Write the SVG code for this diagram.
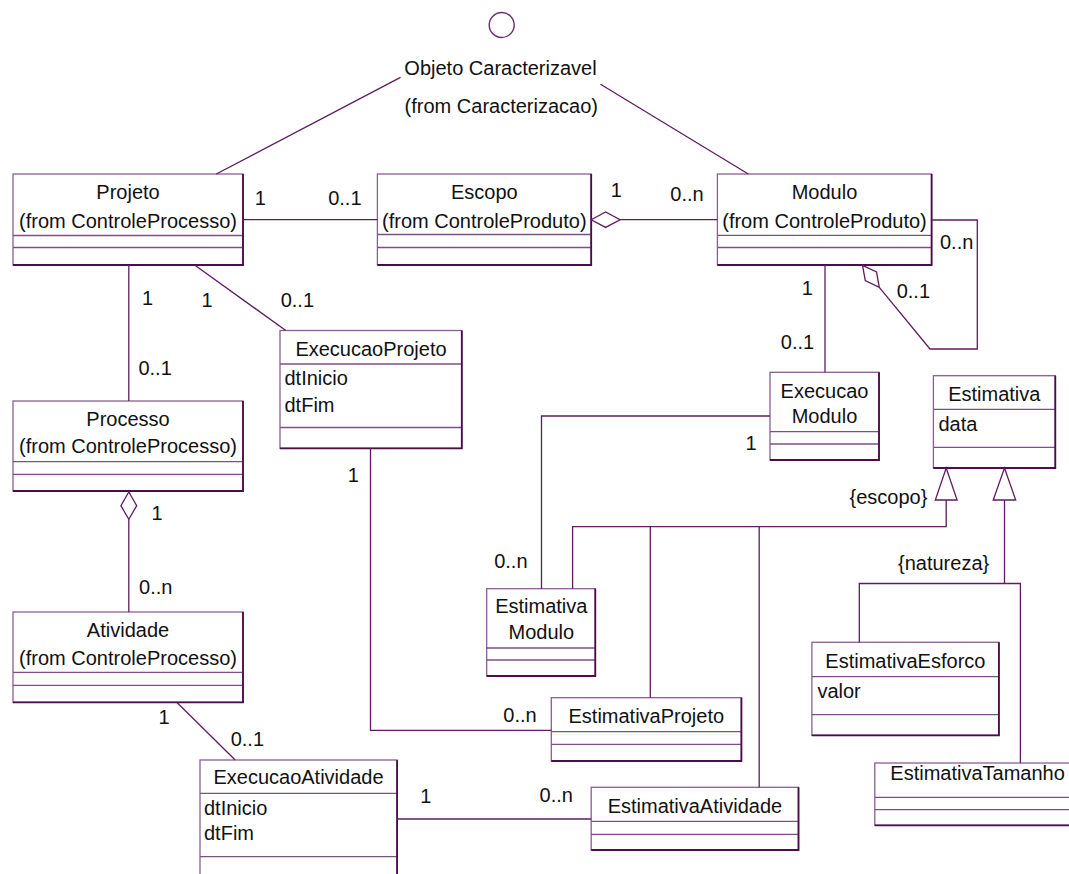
<svg xmlns="http://www.w3.org/2000/svg" width="1069" height="874" viewBox="0 0 1069 874">
<style>
  text { font-family: "Liberation Sans", Arial, sans-serif; font-size: 20px; fill: #111; }
  .c { text-anchor: middle; }
  .box { fill: #fff; stroke: #8a5e92; stroke-width: 1.3; }
  .sep { stroke: #7e4f86; stroke-width: 1.3; fill: none; }
  .shd { stroke: #4a0c4a; stroke-width: 1.8; fill: none; }
  .ln { stroke: #5e1c60; stroke-width: 1.3; fill: none; }
  .dia { stroke: #5e1c60; stroke-width: 1.3; fill: #fff; }
</style>
<rect width="1069" height="874" fill="#fff"/>

<g id="objeto-caracterizavel">
  <circle cx="501.7" cy="25" r="12.5" fill="#fff" stroke="#6a2a70" stroke-width="1.4"/>
  <text class="c" x="500.5" y="75">Objeto Caracterizavel</text>
  <text class="c" x="501.3" y="113">(from Caracterizacao)</text>
</g>

<g id="projeto">
  <rect class="box" x="13" y="174" width="230" height="91"/>
  <line class="sep" x1="13" y1="235.5" x2="243" y2="235.5"/>
  <line class="sep" x1="13" y1="247.5" x2="243" y2="247.5"/>
  <path class="shd" d="M13 265H243V174"/>
  <text class="c" x="128" y="199">Projeto</text>
  <text class="c" x="128" y="227.5">(from ControleProcesso)</text>
</g>

<g id="escopo">
  <rect class="box" x="377.4" y="174" width="213.8" height="91"/>
  <line class="sep" x1="377.4" y1="234.5" x2="591.2" y2="234.5"/>
  <line class="sep" x1="377.4" y1="247.5" x2="591.2" y2="247.5"/>
  <path class="shd" d="M377.4 265H591.2V174"/>
  <text class="c" x="484.3" y="199">Escopo</text>
  <text class="c" x="484.3" y="227.5">(from ControleProduto)</text>
</g>

<g id="modulo">
  <rect class="box" x="717.4" y="174" width="214.2" height="91"/>
  <line class="sep" x1="717.4" y1="235.3" x2="931.6" y2="235.3"/>
  <line class="sep" x1="717.4" y1="247.5" x2="931.6" y2="247.5"/>
  <path class="shd" d="M717.4 265H931.6V174"/>
  <text class="c" x="824.5" y="199">Modulo</text>
  <text class="c" x="824.5" y="227.5">(from ControleProduto)</text>
</g>

<g id="execucao-projeto">
  <rect class="box" x="280" y="330.5" width="181.8" height="117.8"/>
  <line class="sep" x1="280" y1="364" x2="461.8" y2="364"/>
  <line class="sep" x1="280" y1="427.5" x2="461.8" y2="427.5"/>
  <path class="shd" d="M280 448.3H461.8V330.5"/>
  <text class="c" x="371" y="356">ExecucaoProjeto</text>
  <text x="284.5" y="385">dtInicio</text>
  <text x="284.5" y="411.5">dtFim</text>
</g>

<g id="processo">
  <rect class="box" x="13" y="401" width="230" height="90"/>
  <line class="sep" x1="13" y1="461.7" x2="243" y2="461.7"/>
  <line class="sep" x1="13" y1="474.3" x2="243" y2="474.3"/>
  <path class="shd" d="M13 491H243V401"/>
  <text class="c" x="128" y="426">Processo</text>
  <text class="c" x="128" y="453.3">(from ControleProcesso)</text>
</g>

<g id="atividade">
  <rect class="box" x="13" y="612" width="230" height="90.3"/>
  <line class="sep" x1="13" y1="672.3" x2="243" y2="672.3"/>
  <line class="sep" x1="13" y1="685.3" x2="243" y2="685.3"/>
  <path class="shd" d="M13 702.3H243V612"/>
  <text class="c" x="128" y="636.7">Atividade</text>
  <text class="c" x="128" y="665">(from ControleProcesso)</text>
</g>

<g id="execucao-atividade">
  <rect class="box" x="200" y="760" width="197.1" height="125"/>
  <line class="sep" x1="200" y1="793.3" x2="397.1" y2="793.3"/>
  <line class="sep" x1="200" y1="856.7" x2="397.1" y2="856.7"/>
  <path class="shd" d="M397.1 760V885"/>
  <text class="c" x="298.5" y="784">ExecucaoAtividade</text>
  <text x="204" y="815">dtInicio</text>
  <text x="204" y="840">dtFim</text>
</g>

<g id="execucao-modulo">
  <rect class="box" x="770" y="372.3" width="109" height="87.7"/>
  <line class="sep" x1="770" y1="431.7" x2="879" y2="431.7"/>
  <line class="sep" x1="770" y1="444" x2="879" y2="444"/>
  <path class="shd" d="M770 460H879V372.3"/>
  <text class="c" x="824.5" y="398.3">Execucao</text>
  <text class="c" x="824.5" y="423.3">Modulo</text>
</g>

<g id="estimativa">
  <rect class="box" x="933.4" y="375.7" width="121.9" height="92.3"/>
  <line class="sep" x1="933.4" y1="409.3" x2="1055.3" y2="409.3"/>
  <line class="sep" x1="933.4" y1="447.3" x2="1055.3" y2="447.3"/>
  <path class="shd" d="M933.4 468H1055.3V375.7"/>
  <text class="c" x="994.3" y="400.7">Estimativa</text>
  <text x="938.4" y="430.7">data</text>
</g>

<g id="estimativa-modulo">
  <rect class="box" x="486.7" y="588.7" width="108.6" height="87.3"/>
  <line class="sep" x1="486.7" y1="648" x2="595.3" y2="648"/>
  <line class="sep" x1="486.7" y1="660" x2="595.3" y2="660"/>
  <path class="shd" d="M486.7 676H595.3V588.7"/>
  <text class="c" x="541.3" y="613.3">Estimativa</text>
  <text class="c" x="541.3" y="638.7">Modulo</text>
</g>

<g id="estimativa-projeto">
  <rect class="box" x="551.3" y="697.7" width="190.1" height="63.3"/>
  <line class="sep" x1="551.3" y1="731.7" x2="741.4" y2="731.7"/>
  <line class="sep" x1="551.3" y1="744.3" x2="741.4" y2="744.3"/>
  <path class="shd" d="M551.3 761H741.4V697.7"/>
  <text class="c" x="646.3" y="722.7">EstimativaProjeto</text>
</g>

<g id="estimativa-atividade">
  <rect class="box" x="591.2" y="787.3" width="207.3" height="62.7"/>
  <line class="sep" x1="591.2" y1="821.3" x2="798.5" y2="821.3"/>
  <line class="sep" x1="591.2" y1="834.3" x2="798.5" y2="834.3"/>
  <path class="shd" d="M591.2 850H798.5V787.3"/>
  <text class="c" x="694.9" y="812.7">EstimativaAtividade</text>
</g>

<g id="estimativa-esforco">
  <rect class="box" x="811.9" y="642.3" width="187" height="93"/>
  <line class="sep" x1="811.9" y1="676.7" x2="998.9" y2="676.7"/>
  <line class="sep" x1="811.9" y1="714.7" x2="998.9" y2="714.7"/>
  <path class="shd" d="M811.9 735.3H998.9V642.3"/>
  <text class="c" x="905.4" y="668.3">EstimativaEsforco</text>
  <text x="817.4" y="698.3">valor</text>
</g>

<g id="estimativa-tamanho">
  <rect class="box" x="874.8" y="763" width="210" height="62.3"/>
  <line class="sep" x1="874.8" y1="797.3" x2="1084.8" y2="797.3"/>
  <line class="sep" x1="874.8" y1="809.7" x2="1084.8" y2="809.7"/>
  <path class="shd" d="M874.8 825.3H1084.8"/>
  <text x="890.3" y="780">EstimativaTamanho</text>
</g>

<g id="connectors">
  <line class="ln" x1="400.5" y1="77.3" x2="216.3" y2="174"/>
  <line class="ln" x1="600.5" y1="84.3" x2="748.3" y2="174"/>
  <line class="ln" x1="243" y1="219.7" x2="377.4" y2="219.7"/>
  <polygon class="dia" points="591.2,219.7 605.6,212 620.1,219.7 605.6,227.4"/>
  <line class="ln" x1="620.1" y1="219.7" x2="717.4" y2="219.7"/>
  <polyline class="ln" points="931.6,220 977.3,220 977.3,349 930,349 879.3,287.3"/>
  <polygon class="dia" points="862.5,265.3 876.5,272 879.3,287.3 865.3,280.6"/>
  <line class="ln" x1="825" y1="265" x2="825" y2="372.3"/>
  <line class="ln" x1="128.8" y1="265" x2="128.8" y2="401"/>
  <line class="ln" x1="194.6" y1="265" x2="285.8" y2="330.5"/>
  <polygon class="dia" points="128.8,492 136.7,505.7 128.8,519.3 120.9,505.7"/>
  <line class="ln" x1="128.8" y1="519.3" x2="128.8" y2="612"/>
  <line class="ln" x1="176.7" y1="702.3" x2="235.2" y2="760"/>
  <line class="ln" x1="397.1" y1="819" x2="591.2" y2="819"/>
  <polyline class="ln" points="370.5,448.3 370.5,730.3 551.3,730.3"/>
  <polyline class="ln" points="770,416 541.5,416 541.5,588.7"/>
  <polygon class="dia" points="946.2,468 957.1,500 935.3,500"/>
  <polyline class="ln" points="946.2,500 946.2,526.7 572.6,526.7 572.6,588.7"/>
  <line class="ln" x1="650.3" y1="526.7" x2="650.3" y2="697.7"/>
  <line class="ln" x1="759.2" y1="526.7" x2="759.2" y2="787.3"/>
  <polygon class="dia" points="1004.5,468 1015.7,500 993.2,500"/>
  <line class="ln" x1="1004.5" y1="500" x2="1004.5" y2="583.5"/>
  <polyline class="ln" points="859.3,642.3 859.3,583.5 1020.4,583.5 1020.4,763"/>
</g>

<g id="labels">
  <text x="254.8" y="205">1</text>
  <text x="328.2" y="205">0..1</text>
  <text x="610.8" y="196.7">1</text>
  <text x="670.3" y="200.7">0..n</text>
  <text x="940" y="249">0..n</text>
  <text x="896.7" y="297.7">0..1</text>
  <text x="801.7" y="295">1</text>
  <text x="780.8" y="349.3">0..1</text>
  <text x="141.9" y="305">1</text>
  <text x="201.5" y="306.7">1</text>
  <text x="280.7" y="306.7">0..1</text>
  <text x="138.4" y="375">0..1</text>
  <text x="151.5" y="520">1</text>
  <text x="139.1" y="594.3">0..n</text>
  <text x="347.8" y="481.7">1</text>
  <text x="745.4" y="450">1</text>
  <text x="494.2" y="568.3">0..n</text>
  <text x="503.3" y="721.7">0..n</text>
  <text x="158.4" y="724">1</text>
  <text x="230.7" y="745.7">0..1</text>
  <text x="420.2" y="803.3">1</text>
  <text x="539.6" y="801.7">0..n</text>
  <text x="849.5" y="504">{escopo}</text>
  <text x="898" y="570">{natureza}</text>
</g>
</svg>
